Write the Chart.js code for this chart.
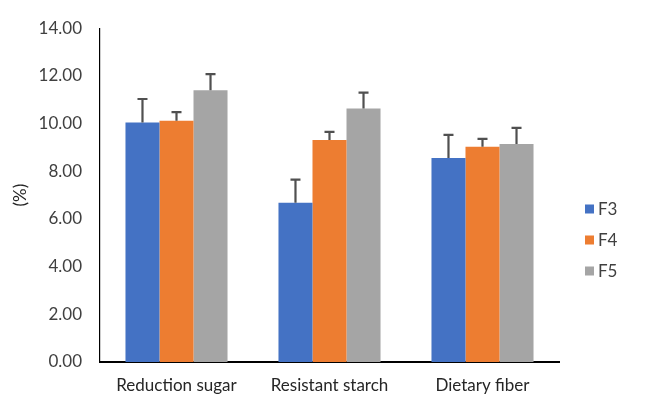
<!DOCTYPE html>
<html><head><meta charset="utf-8">
<script src="https://cdn.jsdelivr.net/npm/chart.js@4.4.1/dist/chart.umd.min.js"></script>
<style>html,body{margin:0;padding:0;background:#fff}#wrap{width:652px;height:395px;position:relative}</style>
</head><body><div id="wrap"><canvas id="c" width="652" height="395"></canvas></div>
<script>
const categories = ["Reduction sugar", "Resistant starch", "Dietary fiber"];
const seriesNames = ["F3", "F4", "F5"];
const f3 = [10.05, 6.68, 8.56];
const f4 = [10.12, 9.31, 9.03];
const f5 = [11.40, 10.63, 9.14];
const f3Err = [0.98, 0.97, 0.97];
const f4Err = [0.36, 0.34, 0.33];
const f5Err = [0.67, 0.67, 0.68];
const colors = ["#4472C4", "#ED7D31", "#A5A5A5"];
const FONT = "Lato, 'Open Sans', sans-serif";

const errorBars = {
  id: 'errorBars',
  afterDatasetsDraw(chart) {
    const ctx = chart.ctx, y = chart.scales.y;
    chart.data.datasets.forEach((ds, i) => {
      const meta = chart.getDatasetMeta(i);
      meta.data.forEach((bar, j) => {
        const v = ds.data[j], e = ds.err[j];
        const y0 = y.getPixelForValue(v), y1 = y.getPixelForValue(v + e);
        ctx.save();
        ctx.strokeStyle = '#505050'; ctx.lineWidth = 2.2;
        ctx.beginPath();
        ctx.moveTo(bar.x, y0); ctx.lineTo(bar.x, y1);
        ctx.moveTo(bar.x - 5, y1); ctx.lineTo(bar.x + 5, y1);
        ctx.stroke();
        ctx.restore();
      });
    });
  }
};
const sideLegend = {
  id: 'sideLegend',
  afterDraw(chart) {
    const ctx = chart.ctx;
    const x = chart.chartArea.right + 26, ys = [209, 240, 271];
    ctx.save();
    ctx.font = "17px " + FONT; ctx.textBaseline = 'middle';
    chart.data.datasets.forEach((ds, i) => {
      ctx.fillStyle = ds.backgroundColor;
      ctx.fillRect(x, ys[i] - 4.5, 9, 9);
      ctx.fillStyle = '#404040';
      ctx.fillText(ds.label, x + 13, ys[i] + 1);
    });
    ctx.restore();
  }
};

const errs = [f3Err, f4Err, f5Err];
new Chart(document.getElementById('c'), {
  type: 'bar',
  data: {
    labels: categories,
    datasets: [f3, f4, f5].map((d, i) => ({
      label: seriesNames[i], data: d, err: errs[i], backgroundColor: colors[i],
      barPercentage: 1.0, categoryPercentage: 0.667
    }))
  },
  options: {
    responsive: false, animation: false,
    layout: { padding: { top: 20, right: 93, left: 0, bottom: 0 } },
    plugins: { legend: { display: false }, tooltip: { enabled: false } },
    scales: {
      x: {
        grid: { display: false, drawTicks: false },
        border: { color: '#000', width: 2 },
        ticks: { font: { family: FONT, size: 17 }, color: '#262626', padding: 13, maxRotation: 0 },
        afterFit(s) { s.height = 33; }
      },
      y: {
        min: 0, max: 14,
        grid: { display: false, drawTicks: false },
        border: { color: '#000', width: 1.2 },
        ticks: { stepSize: 2, font: { family: FONT, size: 17 }, color: '#404040', padding: 18,
                 callback: v => Number(v).toFixed(2) },
        title: { display: true, text: '(%)', font: { family: FONT, size: 17 }, color: '#262626', padding: { top: 10, bottom: 0 } },
        afterFit(s) { s.width = 100; }
      }
    }
  },
  plugins: [errorBars, sideLegend]
});
</script></body></html>
